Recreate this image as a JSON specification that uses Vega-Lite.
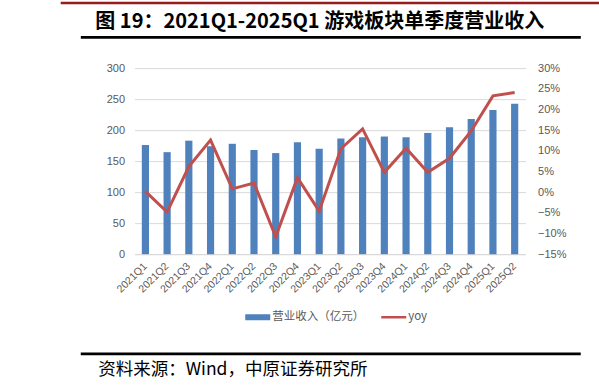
{
  "$schema": "https://vega.github.io/schema/vega-lite/v6.json",
  "padding": {"left": 60.25, "top": 1.5, "right": 0, "bottom": 10},
  "background": "white",
  "config": {"font": "Liberation Sans"},
  "spacing": 23.65,
  "center": true,
  "vconcat": [
    {
      "spacing": 6.3,
      "center": true,
      "vconcat": [
        {
          "width": 537, "height": 1,
          "data": {"values": []},
          "mark": "point",
          "view": {"stroke": "#981B1E", "strokeWidth": 1.5, "fill": null},
          "encoding": {
            "y": {
              "field": "w", "type": "quantitative", "scale": {"domain": [0, 1]},
              "axis": {"orient": "right", "title": null, "labels": false, "ticks": false, "domain": false, "grid": false, "minExtent": 40, "maxExtent": 40}
            }
          }
        },
        {
          "width": 500, "height": 1,
          "data": {"values": []},
          "mark": "point",
          "view": {"stroke": null, "fill": null},
          "encoding": {
            "x": {
              "field": "v", "type": "quantitative",
              "scale": {"domain": [0, 1]},
              "axis": {
                "orient": "top", "labels": false, "ticks": false, "grid": false,
                "domain": true, "domainColor": "#000000", "domainWidth": 2.7, "domainCap": "butt",
                "title": "图 19：2021Q1-2025Q1 游戏板块单季度营业收入",
                "titleX": 14.5, "titleY": -15.2, "titleAlign": "left", "titleBaseline": "middle",
                "titleFont": "Noto Sans CJK SC", "titleFontSize": 20, "titleFontWeight": "bold", "titleColor": "#000000"
              }
            },
            "y": {
              "field": "w", "type": "quantitative", "scale": {"domain": [0, 1]},
              "axis": {"orient": "right", "title": null, "labels": false, "ticks": false, "domain": false, "grid": false, "minExtent": 40, "maxExtent": 40}
            }
          }
        }
      ]
    },
    {
      "spacing": 57.15,
      "center": true,
      "vconcat": [
        {
          "width": 391, "height": 186,
          "view": {"stroke": null},
          "data": {"values": [
            {"q": "2021Q1", "rev": 176, "yoy": 0.002},
            {"q": "2021Q2", "rev": 164.5, "yoy": -0.048},
            {"q": "2021Q3", "rev": 183, "yoy": 0.062},
            {"q": "2021Q4", "rev": 174, "yoy": 0.126},
            {"q": "2022Q1", "rev": 178, "yoy": 0.008},
            {"q": "2022Q2", "rev": 168, "yoy": 0.022},
            {"q": "2022Q3", "rev": 163, "yoy": -0.108},
            {"q": "2022Q4", "rev": 180.5, "yoy": 0.035},
            {"q": "2023Q1", "rev": 170, "yoy": -0.046},
            {"q": "2023Q2", "rev": 186.5, "yoy": 0.105},
            {"q": "2023Q3", "rev": 188.5, "yoy": 0.153},
            {"q": "2023Q4", "rev": 189.7, "yoy": 0.048},
            {"q": "2024Q1", "rev": 188.5, "yoy": 0.106},
            {"q": "2024Q2", "rev": 195.5, "yoy": 0.048},
            {"q": "2024Q3", "rev": 204.7, "yoy": 0.082},
            {"q": "2024Q4", "rev": 218, "yoy": 0.148},
            {"q": "2025Q1", "rev": 232.5, "yoy": 0.233},
            {"q": "2025Q2", "rev": 242.7, "yoy": 0.241}
          ]},
          "encoding": {
            "x": {
              "field": "q", "type": "nominal", "sort": null,
              "scale": {"paddingInner": 0.67, "paddingOuter": 0.335},
              "axis": {
                "title": null, "labelAngle": -45, "labelAlign": "right", "labelBaseline": "middle",
                "labelPadding": 10, "ticks": false, "tickSize": 0,
                "domain": true, "domainColor": "#D9D9D9", "domainWidth": 1,
                "labelColor": "#595959", "labelFontSize": 10.5, "labelFont": "Liberation Sans"
              }
            }
          },
          "layer": [
            {
              "mark": {"type": "bar"},
              "encoding": {
                "y": {
                  "field": "rev", "type": "quantitative",
                  "scale": {"domain": [0, 300], "nice": false},
                  "axis": {
                    "title": null, "values": [0, 50, 100, 150, 200, 250, 300],
                    "grid": true, "gridColor": "#D9D9D9", "gridWidth": 1,
                    "domain": false, "ticks": false, "tickSize": 0,
                    "labelPadding": 10, "labelColor": "#595959", "labelFontSize": 11,
                    "minExtent": 40, "maxExtent": 40
                  }
                },
                "color": {
                  "datum": "营业收入（亿元）",
                  "scale": {"domain": ["营业收入（亿元）", "yoy"], "range": ["#4F81BD", "#C0504D"]},
                  "legend": {
                    "orient": "none", "legendX": 184, "legendY": 302.25,
                    "direction": "horizontal", "title": null,
                    "symbolType": "M-1,-0.24H1V0.24H-1Z", "symbolSize": 625,
                    "labelFont": "Noto Sans CJK SC", "labelFontSize": 11.5, "labelColor": "#595959",
                    "labelOffset": 2, "columnPadding": 17, "padding": 0,
                    "encode": {
                      "symbols": {
                        "update": {
                          "shape": {"signal": "datum.value === 'yoy' ? 'M-1,-0.1H1V0.1H-1Z' : 'M-1,-0.24H1V0.24H-1Z'"},
                          "fill": {"scale": "color", "field": "value"},
                          "stroke": {"value": "transparent"},
                          "strokeWidth": {"value": 0}
                        }
                      }
                    }
                  }
                }
              }
            },
            {
              "mark": {"type": "line", "strokeWidth": 3},
              "encoding": {
                "y": {
                  "field": "yoy", "type": "quantitative",
                  "scale": {"domain": [-0.15, 0.3], "nice": false},
                  "axis": {
                    "title": null, "orient": "right", "format": ".0%",
                    "values": [-0.15, -0.1, -0.05, 0, 0.05, 0.1, 0.15, 0.2, 0.25, 0.3],
                    "grid": false, "domain": false, "ticks": false, "tickSize": 0,
                    "labelPadding": 12, "labelColor": "#595959", "labelFontSize": 11,
                    "minExtent": 40, "maxExtent": 40
                  }
                },
                "color": {"datum": "yoy"}
              }
            }
          ],
          "resolve": {"scale": {"y": "independent"}}
        },
        {
          "width": 500, "height": 1,
          "data": {"values": []},
          "mark": "point",
          "view": {"stroke": null, "fill": null},
          "encoding": {
            "x": {
              "field": "v", "type": "quantitative",
              "scale": {"domain": [0, 1]},
              "axis": {
                "orient": "bottom", "labels": false, "ticks": false, "grid": false,
                "domain": true, "domainColor": "#000000", "domainWidth": 2.7, "domainCap": "butt",
                "title": "资料来源：Wind，中原证券研究所",
                "titleX": 17.5, "titleY": 16.2, "titleAlign": "left", "titleBaseline": "middle",
                "titleFont": "Noto Sans CJK SC", "titleFontSize": 17.5, "titleFontWeight": "normal", "titleColor": "#000000"
              }
            },
            "y": {
              "field": "w", "type": "quantitative", "scale": {"domain": [0, 1]},
              "axis": {"orient": "right", "title": null, "labels": false, "ticks": false, "domain": false, "grid": false, "minExtent": 40, "maxExtent": 40}
            }
          }
        }
      ]
    }
  ]
}
